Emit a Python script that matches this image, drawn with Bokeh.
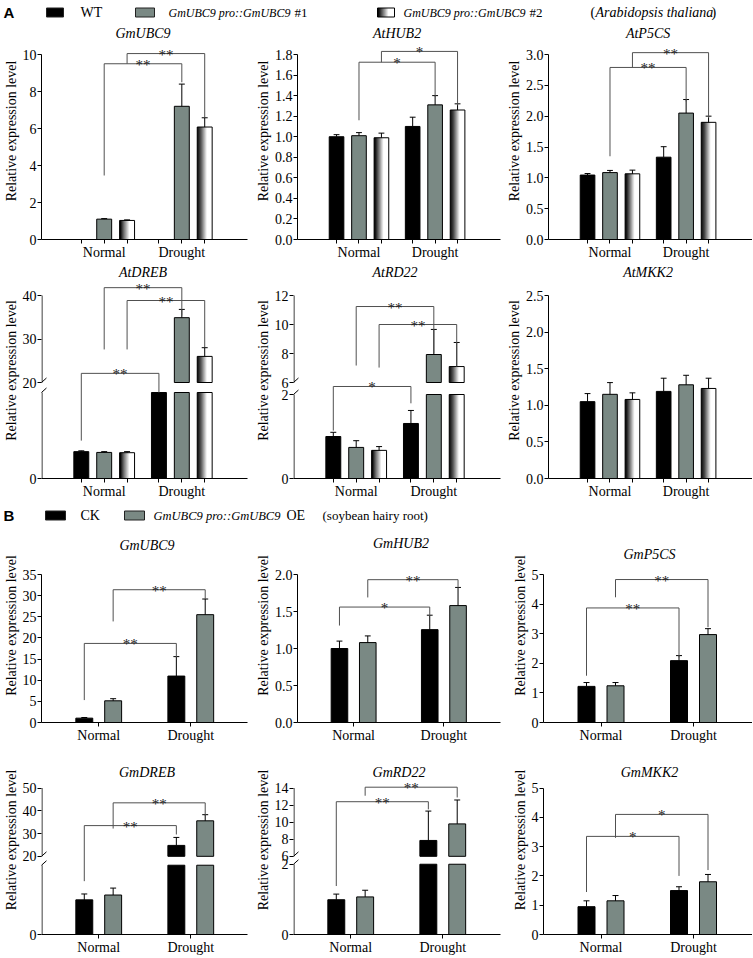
from bokeh.plotting import figure
from bokeh.layouts import column, row
from bokeh.models import Range1d, FixedTicker, CustomJSTickFormatter, Arrow
from bokeh.core.properties import value
from bokeh.embed import file_html
from bokeh.resources import INLINE

# ---------------- data ----------------
conditions = ["Normal", "Drought"]
series_A = ["WT", "GmUBC9 pro::GmUBC9 #1", "GmUBC9 pro::GmUBC9 #2"]
series_B = ["CK", "GmUBC9 pro::GmUBC9 OE"]

# Panel A, bar order: Normal WT, #1, #2, Drought WT, #1, #2
A_GmUBC9_mean = [0.0, 1.10, 1.03, 0.0, 7.20, 6.08]
A_GmUBC9_err = [0.0, 0.03, 0.03, 0.0, 1.20, 0.50]
A_AtHUB2_mean = [1.00, 1.01, 0.99, 1.10, 1.31, 1.26]
A_AtHUB2_err = [0.02, 0.03, 0.045, 0.09, 0.09, 0.06]
A_AtP5CS_mean = [1.045, 1.085, 1.065, 1.335, 2.05, 1.90]
A_AtP5CS_err = [0.025, 0.035, 0.06, 0.17, 0.22, 0.10]
A_AtDREB_mean = [1.00, 0.97, 0.96, 12.0, 34.9, 26.0]
A_AtDREB_err = [0.03, 0.03, 0.04, 0.0, 1.9, 2.0]
A_AtRD22_mean = [1.00, 0.74, 0.67, 1.31, 7.93, 7.10]
A_AtRD22_err = [0.10, 0.16, 0.09, 0.31, 1.73, 1.66]
A_AtMKK2_mean = [1.05, 1.15, 1.08, 1.19, 1.28, 1.23]
A_AtMKK2_err = [0.11, 0.16, 0.09, 0.18, 0.13, 0.14]

# Panel B, bar order: Normal CK, OE, Drought CK, OE
B_GmUBC9_mean = [1.03, 5.13, 10.98, 25.5]
B_GmUBC9_err = [0.15, 0.50, 4.60, 3.70]
B_GmHUB2_mean = [1.00, 1.08, 1.255, 1.58]
B_GmHUB2_err = [0.10, 0.09, 0.195, 0.245]
B_GmP5CS_mean = [1.22, 1.24, 2.09, 2.97]
B_GmP5CS_err = [0.13, 0.11, 0.17, 0.20]
B_GmDREB_mean = [1.00, 1.14, 24.8, 35.6]
B_GmDREB_err = [0.17, 0.20, 3.5, 2.7]
B_GmRD22_mean = [0.99, 1.07, 7.86, 9.80]
B_GmRD22_err = [0.16, 0.19, 3.44, 2.80]
B_GmMKK2_mean = [0.95, 1.15, 1.50, 1.80]
B_GmMKK2_err = [0.20, 0.18, 0.13, 0.25]

# significance brackets: (left bar, right bar, top, left leg end, right leg end, label)
A_GmUBC9_sig = [(1, 4, 9.5, 3.46, 8.5, "**"), (2, 5, 10.05, 9.5, 6.6, "**")]
A_AtHUB2_sig = [(1, 4, 1.725, 1.16, 1.39, "*"), (2, 5, 1.83, 1.725, 1.305, "*")]
A_AtP5CS_sig = [(1, 4, 2.79, 1.35, 2.24, "**"), (2, 5, 3.03, 2.79, 1.97, "**")]
A_AtDREB_sig = [(1, 4, 41.8, 27.6, 35.4, "**"), (2, 5, 38.85, 27.6, 28.1, "**"),
                (0, 3, 22.1, 1.41, 3.2, "**")]
A_AtRD22_sig = [(0, 3, 4.67, 1.14, 1.79, "*"), (1, 4, 11.24, 7.17, 8.0, "**"),
                (2, 5, 10.0, 7.03, 7.1, "**")]
A_AtMKK2_sig = []
B_GmUBC9_sig = [(0, 2, 18.7, 5.3, 15.4, "**"), (1, 3, 31.4, 23.9, 29.2, "**")]
B_GmHUB2_sig = [(0, 2, 1.56, 1.31, 1.44, "*"), (1, 3, 1.93, 1.69, 1.82, "**")]
B_GmP5CS_sig = [(0, 2, 3.87, 1.58, 2.2, "**"), (1, 3, 4.83, 4.23, 3.22, "**")]
B_GmDREB_sig = [(0, 2, 33.5, 1.54, 29.6, "**"), (1, 3, 43.5, 32.2, 37.8, "**")]
B_GmRD22_sig = [(0, 2, 12.4, 1.38, 11.5, "**"), (1, 3, 14.1, 13.1, 12.9, "**")]
B_GmMKK2_sig = [(0, 2, 3.35, 1.45, 2.0, "*"), (1, 3, 4.1, 3.3, 2.2, "*")]

# y ticks and their labels
A_GmUBC9_ticks = [0, 2, 4, 6, 8, 10]
A_GmUBC9_labels = ["0", "2", "4", "6", "8", "10"]
A_AtHUB2_ticks = [0, 0.2, 0.4, 0.6, 0.8, 1.0, 1.2, 1.4, 1.6, 1.8]
A_AtHUB2_labels = ["0.0", "0.2", "0.4", "0.6", "0.8", "1.0", "1.2", "1.4", "1.6", "1.8"]
A_AtP5CS_ticks = [0, 0.5, 1.0, 1.5, 2.0, 2.5, 3.0]
A_AtP5CS_labels = ["0.0", "0.5", "1.0", "1.5", "2.0", "2.5", "3.0"]
A_AtDREB_ticks = [0, 20, 30, 40]
A_AtDREB_labels = ["0", "20", "30", "40"]
A_AtRD22_ticks = [0, 2, 6, 8, 10, 12]
A_AtRD22_labels = ["0", "2", "6", "8", "10", "12"]
A_AtMKK2_ticks = [0, 0.5, 1.0, 1.5, 2.0, 2.5]
A_AtMKK2_labels = ["0.0", "0.5", "1.0", "1.5", "2.0", "2.5"]
B_GmUBC9_ticks = [0, 5, 10, 15, 20, 25, 30, 35]
B_GmUBC9_labels = ["0", "5", "10", "15", "20", "25", "30", "35"]
B_GmHUB2_ticks = [0, 0.5, 1.0, 1.5, 2.0]
B_GmHUB2_labels = ["0.0", "0.5", "1.0", "1.5", "2.0"]
B_GmP5CS_ticks = [0, 1, 2, 3, 4, 5]
B_GmP5CS_labels = ["0", "1", "2", "3", "4", "5"]
B_GmDREB_ticks = [0, 20, 30, 40, 50]
B_GmDREB_labels = ["0", "20", "30", "40", "50"]
B_GmRD22_ticks = [0, 2, 6, 8, 10, 12, 14]
B_GmRD22_labels = ["0", "2", "6", "8", "10", "12", "14"]
B_GmMKK2_ticks = [0, 1, 2, 3, 4, 5]
B_GmMKK2_labels = ["0", "1", "2", "3", "4", "5"]

# broken axes: (top of lower segment, start of upper segment)
A_AtDREB_break = (3.2, 20)
A_AtRD22_break = (2, 6)
B_GmDREB_break = (2, 20)
B_GmRD22_break = (2, 6)

# ---------------- styling / layout ----------------
SERIF = "Liberation Serif"
AXFONT = "Liberation Serif"
SANS = "Liberation Sans"
GRAY = "#7a8984"
BRACKET = "#505050"
LEFT = 40
COL_W = [252, 251, 249]
COL_RIGHT = [5, 3, 0]
ROWS = [dict(h=240, bottom=23, axis_top=32, title_y=[11, 11, 11]),
        dict(h=240, bottom=24, axis_top=33, title_y=[10, 10, 10]),
        dict(h=217, bottom=23, axis_top=46, title_y=[17, 15, 26]),
        dict(h=212, bottom=21, axis_top=43, title_y=[27, 27, 27])]
# break geometry in reference pixels: (lower top, upper bottom, axis height)
BRK_PX = {"AtDREB": (86, 96, 183), "AtRD22": (84, 96, 183),
          "GmDREB": (70, 79, 148), "GmRD22": (71, 79, 148)}

JS_FMT = """
for (let i = 0; i < pos.length; i++) {
  if (Math.abs(pos[i] - tick) < 1e-6) { return lab[i]; }
}
return "";
"""


def grad_color(t):
    v = min(1.0, max(0.0, (t - 0.05) / 0.6))
    c = int(round(255 * v))
    return "#%02x%02x%02x" % (c, c, c)


def draw_pieces(p, ls, rs, bs, ts, fill):
    if not ls:
        return
    if fill == "grad":
        n = 16
        for j in range(n):
            t = (j + 0.5) / n
            l = [a + (b - a) * j / n for a, b in zip(ls, rs)]
            r = [min(b, a + (b - a) * (j + 1) / n + (b - a) * 0.03) for a, b in zip(ls, rs)]
            p.quad(left=l, right=r, bottom=bs, top=ts, fill_color=grad_color(t), line_color=None)
        p.quad(left=ls, right=rs, bottom=bs, top=ts, fill_color=None, line_color="black", line_width=1)
    else:
        p.quad(left=ls, right=rs, bottom=bs, top=ts, fill_color=fill, line_color="black", line_width=1)


def base_fig(width, height, xr, yr, bottom, left, right=0, axes=True):
    kw = {}
    if not axes:
        kw = dict(x_axis_type=None, y_axis_type=None)
    p = figure(width=width, height=height, x_range=xr, y_range=yr, tools="",
               toolbar_location=None, output_backend="svg", title_location=None,
               min_border_left=left, min_border_right=right, min_border_top=0,
               min_border_bottom=bottom, **kw)
    p.outline_line_color = None
    p.background_fill_color = "white"
    p.border_fill_color = "white"
    if axes:
        p.xgrid.visible = False
        p.ygrid.visible = False
    return p


def style_axis(ax):
    ax.axis_label_text_font = AXFONT
    ax.axis_label_text_font_size = "14px"
    ax.axis_label_text_font_style = "normal"
    ax.axis_label_text_color = "black"
    ax.axis_label_standoff = 1
    ax.major_label_text_font = AXFONT
    ax.major_label_text_font_size = "14px"
    ax.major_label_text_font_style = "normal"
    ax.major_label_text_color = "black"
    ax.major_label_standoff = 1
    ax.major_tick_out = 4
    ax.major_tick_in = 0
    ax.minor_tick_out = 0
    ax.minor_tick_in = 0
    ax.major_tick_line_color = "black"
    ax.axis_line_color = "black"


def make_panel(name, mean, err, sig, ticks, ticklabels, kind, width, right, height, bottom,
               axis_top, title_y, brk=None):
    frame_w = width - LEFT - right
    frame_h = height - bottom
    axis_px = frame_h - axis_top
    if kind == "A":
        ppx = 78.0
        off, bw = 23 / ppx, 15 / ppx
        x_start = 1 - 63 / ppx
        xs = [1 - off, 1, 1 + off, 2 - off, 2, 2 + off]
        fills = ["black", GRAY, "grad"] * 2
        xticks = xs
        title_off = 102
    else:
        ppx = 92.5
        off, bw = 14.5 / ppx, 17 / ppx
        x_start = 1 - 57.5 / ppx
        xs = [1 - off, 1 + off, 2 - off, 2 + off]
        fills = ["black", GRAY] * 2
        xticks = [1.0, 2.0]
        title_off = 106
    x_end = x_start + frame_w / ppx
    top = ticks[-1]
    if brk is None:
        ppu = axis_px / top

        def f(v):
            return v

        def px2y(px):
            return px / ppu
        y_end = frame_h / ppu
    else:
        L, U = brk
        low_ref, up_ref, axis_ref = BRK_PX[name]
        s = axis_px / axis_ref
        low_px, up_px = low_ref * s, up_ref * s

        def f(v):
            if v <= L:
                return v / L * low_px
            if v < U:
                return low_px + (v - L) / (U - L) * (up_px - low_px)
            return up_px + (v - U) / (top - U) * (axis_px - up_px)

        def px2y(px):
            return px
        y_end = frame_h

    p = base_fig(width, height, Range1d(x_start, x_end), Range1d(0, y_end), bottom, LEFT, right)

    # bars
    for fill in ["black", GRAY, "grad"]:
        ls, rs, bs, ts = [], [], [], []
        for i in range(len(xs)):
            if fills[i] != fill or mean[i] <= 0:
                continue
            v = mean[i]
            if brk is None:
                pieces = [(0, v)]
            else:
                pieces = [(0, min(v, brk[0]))]
                if v > brk[1]:
                    pieces.append((brk[1], v))
            for b, t in pieces:
                ls.append(xs[i] - bw / 2)
                rs.append(xs[i] + bw / 2)
                bs.append(f(b))
                ts.append(f(t))
        draw_pieces(p, ls, rs, bs, ts, fill)

    # error bars (upper only)
    ex, e0, e1 = [], [], []
    for i in range(len(xs)):
        if err[i] > 0:
            ex.append(xs[i])
            e0.append(f(mean[i]))
            e1.append(f(mean[i] + err[i]))
    cap = 3.0 / ppx
    p.segment(x0=ex, y0=e0, x1=ex, y1=e1, line_color="black", line_width=1)
    p.segment(x0=[x - cap for x in ex], y0=e1, x1=[x + cap for x in ex], y1=e1,
              line_color="black", line_width=1)

    # significance brackets
    if sig:
        bx, by, sx, sy, st = [], [], [], [], []
        for (a, b, yt, ya, yb, lab) in sig:
            xa, xb = xs[a], xs[b]
            bx.append([xa, xa, xb, xb])
            by.append([f(ya), f(yt), f(yt), f(yb)])
            sx.append((xa + xb) / 2)
            sy.append(f(yt))
            st.append(lab)
        p.multi_line(xs=bx, ys=by, line_color=BRACKET, line_width=1)
        p.text(x=sx, y=sy, text=st, text_font=value(SERIF), text_font_size="15px",
               text_align="center", text_baseline="alphabetic", y_offset=1, text_color="#1a1a1a")

    # title
    p.text(x=[x_start + title_off / ppx], y=[px2y(frame_h - title_y)], text=[name],
           text_font=value(SERIF), text_font_size="14px", text_font_style="italic",
           text_align="center", text_baseline="middle", text_color="black")

    # y axis
    ya = p.yaxis[0]
    ypos = [f(t) for t in ticks]
    ya.ticker = FixedTicker(ticks=ypos)
    ya.formatter = CustomJSTickFormatter(args=dict(pos=ypos, lab=ticklabels), code=JS_FMT)
    ya.axis_label = "Relative expression level"
    style_axis(ya)
    if brk is None:
        ya.bounds = (0, top)
    else:
        ya.axis_line_color = None
        xa = x_start + 0.5 / ppx
        p.segment(x0=[xa, xa], y0=[0, up_px], x1=[xa, xa], y1=[low_px, axis_px],
                  line_color="black", line_width=1)
        dx = 5 / ppx
        for yc in (low_px, up_px):
            p.add_layout(Arrow(end=None, x_start=x_start - dx, y_start=yc - 4.5,
                               x_end=x_start + dx, y_end=yc + 4.5,
                               line_color="black", line_width=1))

    # x axis
    xa_ = p.xaxis[0]
    xa_.ticker = FixedTicker(ticks=xticks)
    xa_.formatter = CustomJSTickFormatter(args=dict(pos=[1.0, 2.0], lab=conditions), code=JS_FMT)
    style_axis(xa_)
    return p


def legend_fig(height, yc, letter, items, texts):
    W = 752
    p = base_fig(W, height, Range1d(0, W), Range1d(0, height), 0, 0, axes=False)
    p.text(x=[3], y=[yc], text=[letter], text_font=value(SANS), text_font_size="15px",
           text_font_style="bold", text_align="left", text_baseline="middle", text_color="black")
    for (x0, x1, fill) in items:
        if fill == "grad":
            draw_pieces(p, [x0], [x1], [yc - 4.5], [yc + 4.5], "grad")
        else:
            p.quad(left=[x0], right=[x1], bottom=[yc - 4.5], top=[yc + 4.5],
                   fill_color=fill, line_color="#222222", line_width=1)
    for (x, txt, style, size) in texts:
        p.text(x=[x], y=[yc], text=[txt], text_font=value(SERIF), text_font_size=size,
               text_font_style=style, text_align="left", text_baseline="middle",
               text_color="black")
    return p


legA = legend_fig(22, 10, "A",
                  [(46, 63, "black"), (135, 154, GRAY), (377, 394, "grad")],
                  [(80, series_A[0], "normal", "14px"),
                   (168, "GmUBC9 pro::GmUBC9", "italic", "12px"), (294, "#1", "normal", "13px"),
                   (403, "GmUBC9 pro::GmUBC9", "italic", "12px"), (529, "#2", "normal", "13px"),
                   (590, "(", "normal", "14px"), (595, "Arabidopsis thaliana", "italic", "14px"),
                   (711, ")", "normal", "14px")])

legB = legend_fig(26, 13, "B",
                  [(45, 65, "black"), (124, 144, GRAY)],
                  [(80, series_B[0], "normal", "14px"),
                   (153, "GmUBC9 pro::GmUBC9", "italic", "12.5px"), (286, "OE", "normal", "14px"),
                   (322, "(soybean hairy root)", "normal", "13px")])

panels = [
    [("GmUBC9", A_GmUBC9_mean, A_GmUBC9_err, A_GmUBC9_sig, A_GmUBC9_ticks, A_GmUBC9_labels, "A", None),
     ("AtHUB2", A_AtHUB2_mean, A_AtHUB2_err, A_AtHUB2_sig, A_AtHUB2_ticks, A_AtHUB2_labels, "A", None),
     ("AtP5CS", A_AtP5CS_mean, A_AtP5CS_err, A_AtP5CS_sig, A_AtP5CS_ticks, A_AtP5CS_labels, "A", None)],
    [("AtDREB", A_AtDREB_mean, A_AtDREB_err, A_AtDREB_sig, A_AtDREB_ticks, A_AtDREB_labels, "A", A_AtDREB_break),
     ("AtRD22", A_AtRD22_mean, A_AtRD22_err, A_AtRD22_sig, A_AtRD22_ticks, A_AtRD22_labels, "A", A_AtRD22_break),
     ("AtMKK2", A_AtMKK2_mean, A_AtMKK2_err, A_AtMKK2_sig, A_AtMKK2_ticks, A_AtMKK2_labels, "A", None)],
    [("GmUBC9", B_GmUBC9_mean, B_GmUBC9_err, B_GmUBC9_sig, B_GmUBC9_ticks, B_GmUBC9_labels, "B", None),
     ("GmHUB2", B_GmHUB2_mean, B_GmHUB2_err, B_GmHUB2_sig, B_GmHUB2_ticks, B_GmHUB2_labels, "B", None),
     ("GmP5CS", B_GmP5CS_mean, B_GmP5CS_err, B_GmP5CS_sig, B_GmP5CS_ticks, B_GmP5CS_labels, "B", None)],
    [("GmDREB", B_GmDREB_mean, B_GmDREB_err, B_GmDREB_sig, B_GmDREB_ticks, B_GmDREB_labels, "B", B_GmDREB_break),
     ("GmRD22", B_GmRD22_mean, B_GmRD22_err, B_GmRD22_sig, B_GmRD22_ticks, B_GmRD22_labels, "B", B_GmRD22_break),
     ("GmMKK2", B_GmMKK2_mean, B_GmMKK2_err, B_GmMKK2_sig, B_GmMKK2_ticks, B_GmMKK2_labels, "B", None)],
]

rows = []
for r, specs in enumerate(panels):
    cfg = ROWS[r]
    figs = []
    for c, (name, mean, err, sig, ticks, labels, kind, brk) in enumerate(specs):
        figs.append(make_panel(name, mean, err, sig, ticks, labels, kind, COL_W[c], COL_RIGHT[c],
                               cfg["h"], cfg["bottom"], cfg["axis_top"], cfg["title_y"][c], brk))
    rows.append(row(*figs))

layout = column(legA, rows[0], rows[1], legB, rows[2], rows[3])

open("out.html", "w").write(file_html(layout, INLINE, title="GmUBC9 expression"))
